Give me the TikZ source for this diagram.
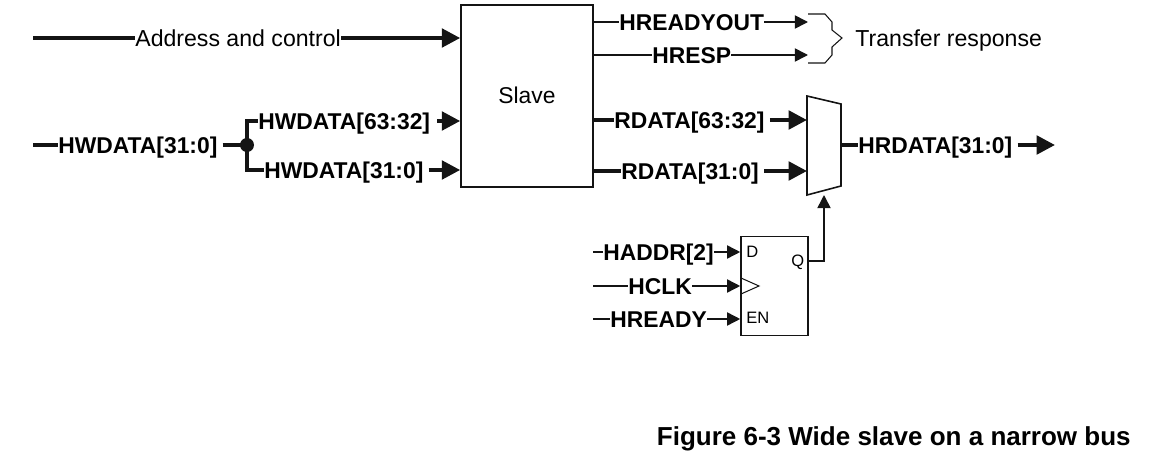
\documentclass[tikz,border=0pt]{standalone}
\usepackage{fontspec}
\setmainfont{Liberation Sans}
\usetikzlibrary{arrows.meta}
\definecolor{linecolor}{RGB}{20, 20, 20}
\tikzset{
    busline/.style={draw=linecolor,line width=2.3pt},
    busarrow/.style={busline,-{Triangle[length=10.5pt,width=10.5pt]}},
    sigline/.style={draw=linecolor,line width=0.9pt},
    sigarrow/.style={sigline,-{Triangle[length=7.5pt,width=7.5pt]}},
    boxpart/.style={draw=linecolor,line width=0.9pt,inner sep=0},
    siglabel/.style={anchor=west,inner sep=0,text height=9.3pt,text depth=0pt,font=\fontsize{13}{15}\selectfont\bfseries},
    plainlabel/.style={anchor=west,inner sep=0,text height=9.3pt,text depth=0pt,font=\fontsize{13.15}{16}\selectfont},
    pinlabel/.style={anchor=west,inner sep=0,text height=6.7pt,text depth=0pt,font=\fontsize{9.4}{11}\selectfont},
    captionlabel/.style={anchor=east,inner sep=0,text height=10.6pt,text depth=0pt,font=\fontsize{14.8}{17}\selectfont\bfseries}
}
\begin{document}
\begin{tikzpicture}[x=0.02cm,y=-0.02cm]
        \useasboundingbox (0,0) rectangle (1157,456);
        % Slave block
        \node[boxpart,minimum width=132*0.02cm,minimum height=182*0.02cm] (slave) at (527,96) {};
        \node[plainlabel,anchor=center,font=\fontsize{13}{16}\selectfont] (slavename) at (527,95) {Slave};
        % Read data mux
        \coordinate (muxtl) at (807,96);
        \coordinate (muxtr) at (841,104);
        \coordinate (muxbr) at (841,186);
        \coordinate (muxbl) at (807,195);
        \draw[sigline] (muxtl) -- (muxtr) -- (muxbr) -- (muxbl) -- cycle;
        % Flip-flop
        \node[boxpart,minimum width=67*0.02cm,minimum height=99*0.02cm] (flop) at (774.5,286) {};
        \coordinate (clktop) at (741,278);
        \coordinate (clktip) at (759,286);
        \coordinate (clkbot) at (741,294);
        \draw[sigline,line width=0.6pt] (clktop) -- (clktip) -- (clkbot);
        \node[pinlabel] (pind) at (746,252) {D};
        \node[pinlabel] (pinq) at (791,261) {Q};
        \node[pinlabel] (pinen) at (746,318) {EN};
        % Address and control
        \coordinate (addrstart) at (33,38);
        \node[plainlabel] (addr) at (135,38) {Address and control};
        \draw[busline] (addrstart) -- (addr.west);
        \draw[busarrow] (addr.east) -- (addr.east -| slave.west);
        % Write data
        \coordinate (hwstart) at (33,145);
        \node[siglabel] (hwdata) at (58,145) {HWDATA[31:0]};
        \coordinate (hwsplit) at (247,145);
        \node[siglabel] (hwhigh) at (258,121) {HWDATA[63:32]};
        \node[siglabel] (hwlow) at (264,170) {HWDATA[31:0]};
        \draw[busline] (hwstart) -- (hwdata.west);
        \draw[busline] (hwdata.east) ++(5,0) -- (hwsplit);
        \draw[busline] (hwhigh.west) -| (hwsplit) |- (hwlow.west);
        \fill[linecolor] (hwsplit) circle (7);
        \draw[busarrow] (hwhigh.east) ++(7,0) -- (hwhigh.east -| slave.west);
        \draw[busarrow] (hwlow.east) ++(5,0) -- (hwlow.east -| slave.west);
        % Transfer response
        \node[siglabel] (readyout) at (619,22) {HREADYOUT};
        \node[siglabel] (resp) at (652,55) {HRESP};
        \coordinate (bracetop) at (808,14);
        \coordinate (bracetip) at (842,38);
        \coordinate (bracebot) at (808,63);
        \draw[sigline] (readyout.west -| slave.east) -- (readyout.west);
        \draw[sigline] (resp.west -| slave.east) -- (resp.west);
        \draw[sigarrow] (readyout.east) -- (readyout.east -| bracetop);
        \draw[sigarrow] (resp.east) -- (resp.east -| bracetop);
        \draw[sigline,line width=0.6pt] (bracetop) -- (825,14) -- (832,22) -- (832,30) -- (bracetip)
            -- (832,47) -- (832,55) -- (825,63) -- (bracebot);
        \node[plainlabel] (response) at (855,38) {Transfer response};
        % Read data
        \node[siglabel] (rdhigh) at (614,120) {RDATA[63:32]};
        \node[siglabel] (rdlow) at (621,171) {RDATA[31:0]};
        \draw[busline] (rdhigh.west -| slave.east) -- (rdhigh.west);
        \draw[busline] (rdlow.west -| slave.east) -- (rdlow.west);
        \draw[busarrow] (rdhigh.east) ++(5,0) -- (rdhigh.east -| muxtl);
        \draw[busarrow] (rdlow.east) ++(5,0) -- (rdlow.east -| muxtl);
        \node[siglabel] (hrdata) at (858,145) {HRDATA[31:0]};
        \coordinate (hrend) at (1055,145);
        \draw[busline] (hrdata.west -| muxtr) -- (hrdata.west);
        \draw[busarrow] (hrdata.east) ++(5,0) -- (hrend);
        % Flip-flop inputs and select
        \foreach \name/\txt/\x/\y in {addrtwo/HADDR[2]/603/252,clk/HCLK/628/286,ready/HREADY/610/319}{
            \coordinate (\name start) at (593,\y);
            \node[siglabel] (\name) at (\x,\y) {\txt};
            \draw[sigline] (\name start) -- (\name.west);
            \draw[sigarrow] (\name.east) -- (\name.east -| flop.west);
        }
        \coordinate (selbend) at (824,261);
        \draw[sigarrow] (flop.east |- selbend) -- (selbend) -- (selbend |- muxbl);
        % Caption
        \node[captionlabel] (caption) at (1131,436) {Figure 6-3 Wide slave on a narrow bus};
    \end{tikzpicture}
\end{document}
